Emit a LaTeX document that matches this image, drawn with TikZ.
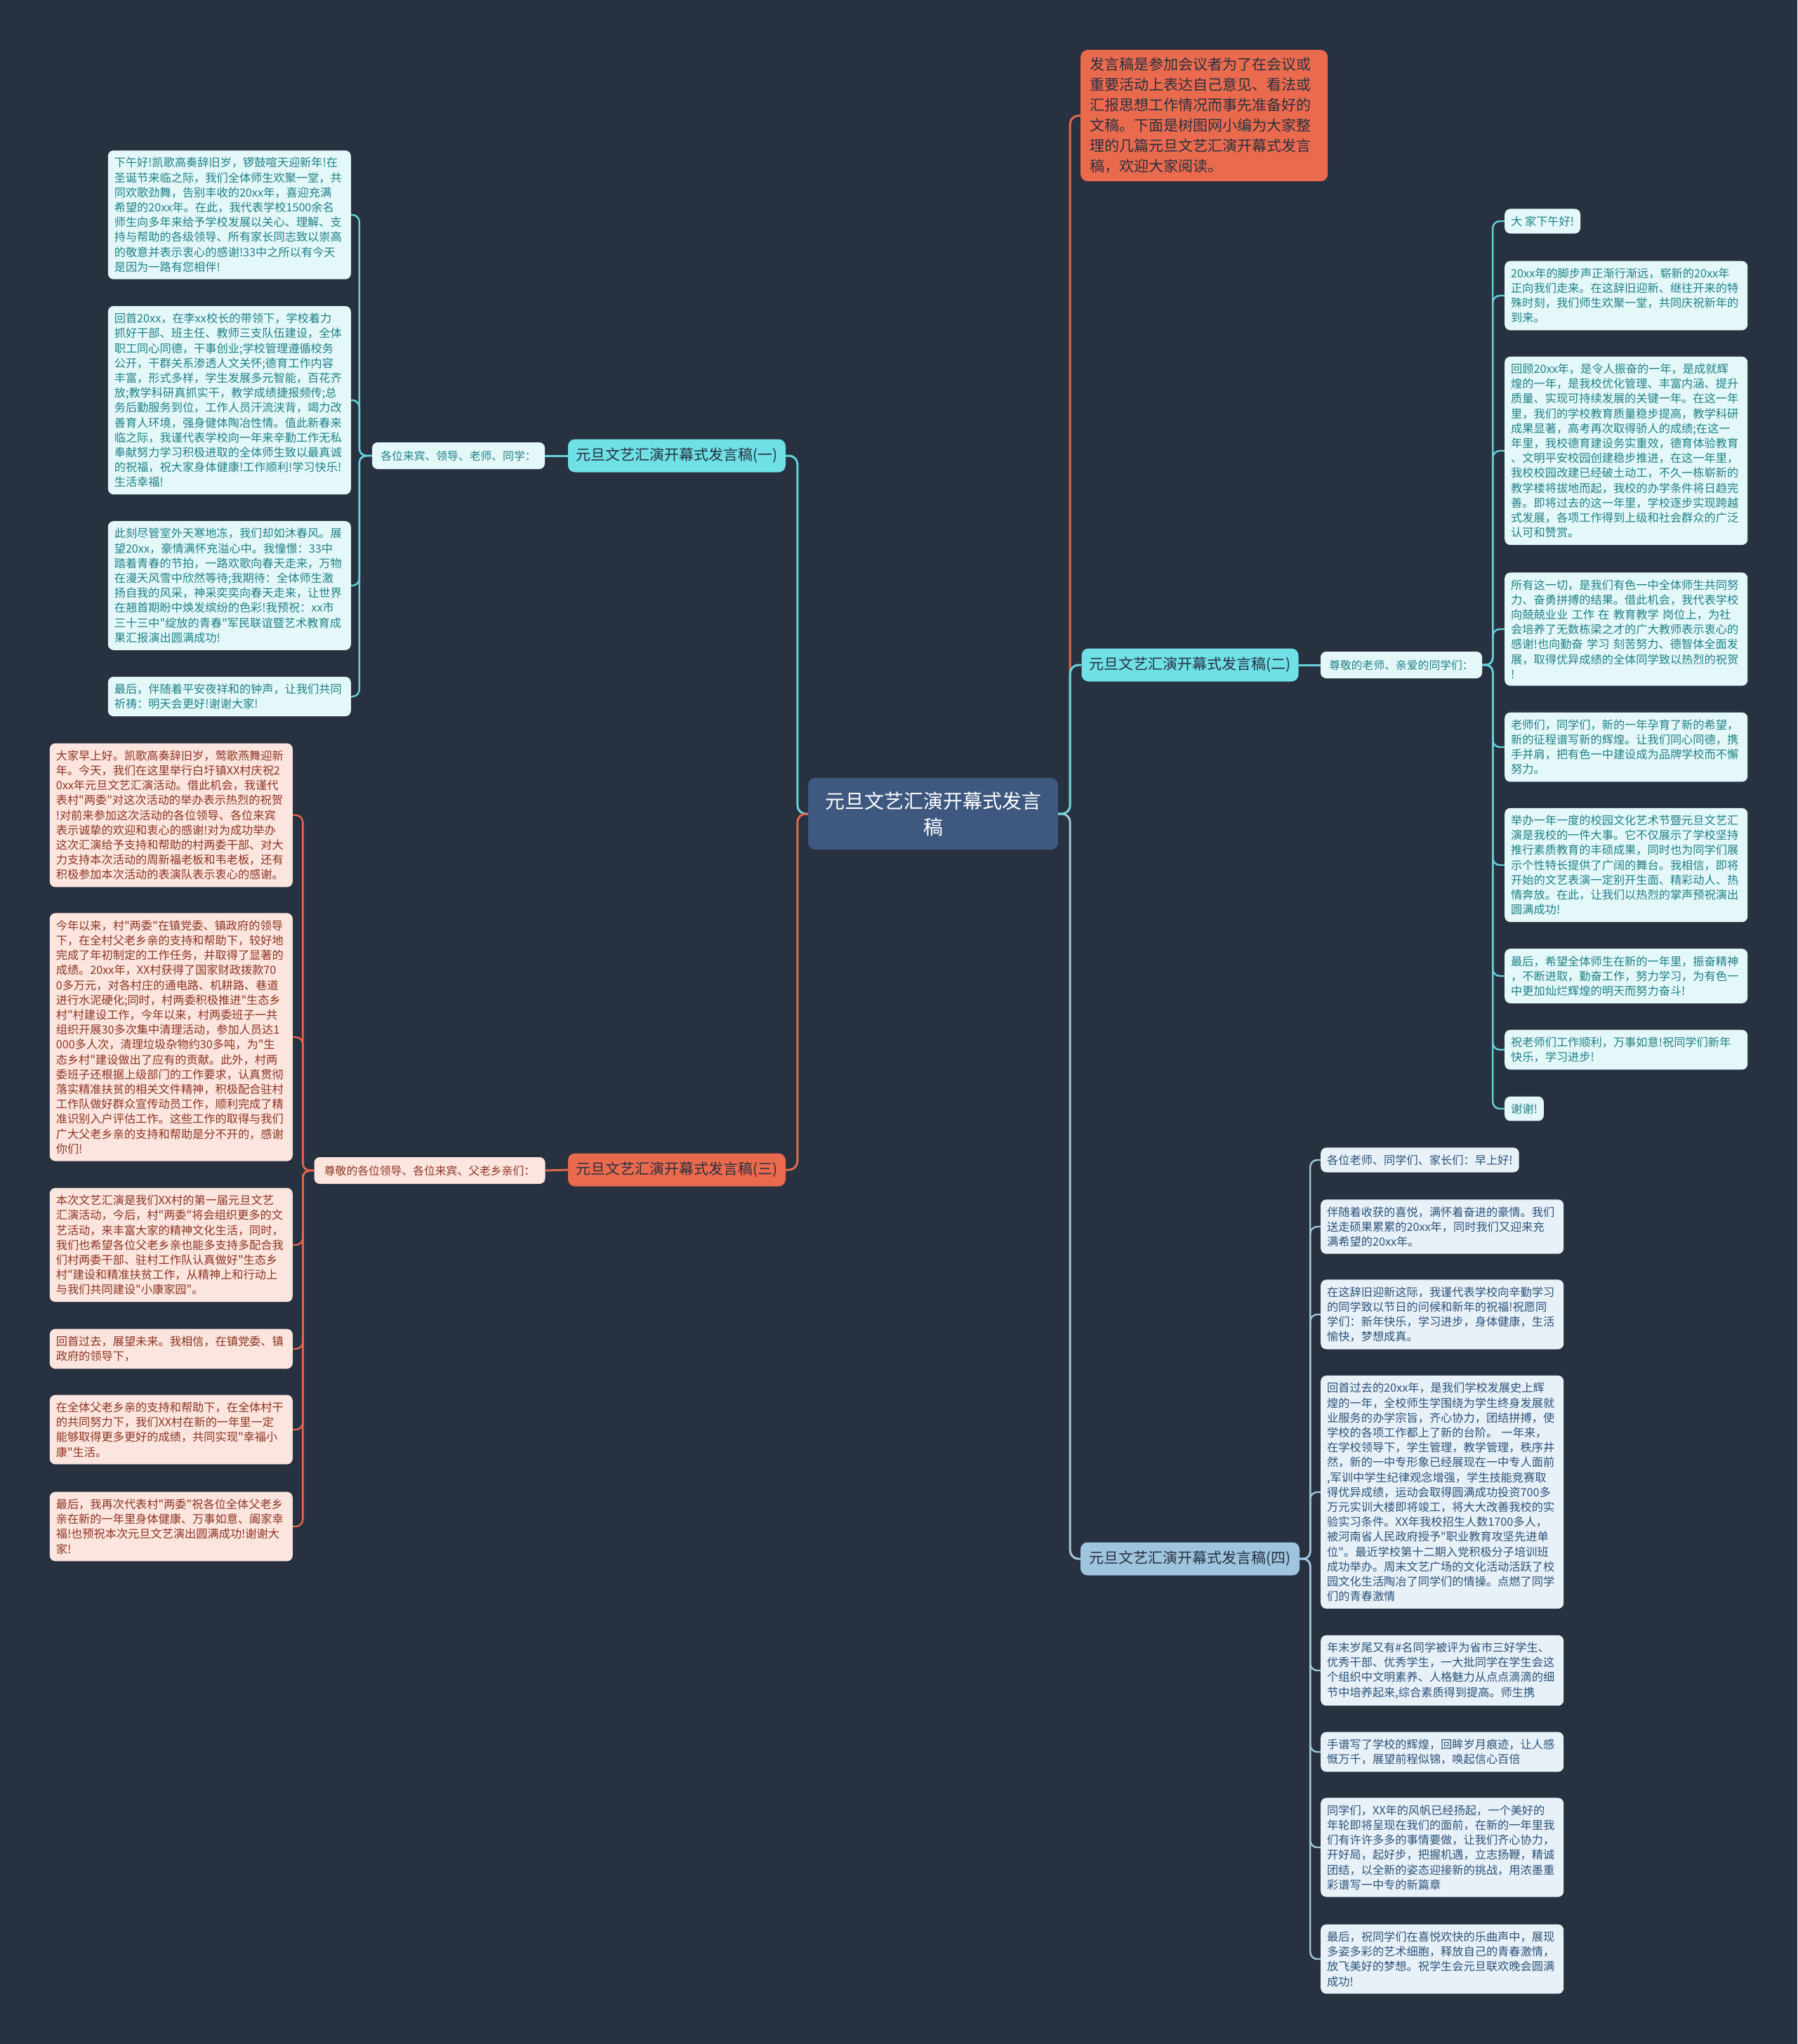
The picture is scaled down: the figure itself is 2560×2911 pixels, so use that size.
\documentclass[tikz,border=0pt]{standalone}
\usepackage{fontspec}
\setmainfont{Noto Sans CJK SC}[Ligatures=TeXOff]
\usepackage{tikz}

\definecolor{bgnavy}{RGB}{40,49,64}
\definecolor{rootblue}{RGB}{62,88,128}
\definecolor{brcyan}{RGB}{110,224,230}
\definecolor{brcoral}{RGB}{234,106,78}
\definecolor{brsky}{RGB}{158,196,222}
\definecolor{linecyan}{RGB}{102,211,219}
\definecolor{linecoral}{RGB}{226,104,76}
\definecolor{linesky}{RGB}{163,198,221}
\definecolor{leafcyan}{RGB}{228,248,249}
\definecolor{leafpink}{RGB}{252,229,222}
\definecolor{leafsky}{RGB}{233,241,248}
\definecolor{txtteal}{RGB}{30,128,134}
\definecolor{txtbrown}{RGB}{140,52,34}
\definecolor{txtblue}{RGB}{42,82,122}

\tikzset{
  leafbox/.style={rounded corners=8pt, inner xsep=9pt, inner ysep=10pt, align=left,
    font=\fontsize{16.2}{21.2}\selectfont},
  longtext/.style={text width=328pt},
  cyanleaf/.style={leafbox, fill=leafcyan, text=txtteal},
  pinkleaf/.style={leafbox, fill=leafpink, text=txtbrown},
  skyleaf/.style={leafbox, fill=leafsky, text=txtblue},
  branchbox/.style={rounded corners=10pt, minimum height=47pt, inner xsep=8pt,
    font=\fontsize{21}{26}\selectfont, text=bgnavy},
  sublabel/.style={rounded corners=8pt, minimum height=38pt, inner xsep=6pt,
    font=\fontsize{15.8}{20}\selectfont},
  cyanline/.style={draw=linecyan, line width=3pt, rounded corners=12pt},
  coralline/.style={draw=linecoral, line width=3pt, rounded corners=12pt},
  skyline/.style={draw=linesky, line width=3pt, rounded corners=12pt},
  leafline/.style={line width=2.4pt, rounded corners=10pt}
}

\begin{document}
\begin{tikzpicture}[x=1pt, y=-1pt]
\useasboundingbox (0,0) rectangle (2560,2911);
\fill[bgnavy] (0,0) rectangle (2560,2911);

% centre and main branches
\node[fill=rootblue, text=white, rounded corners=10pt, minimum width=356pt, minimum height=102pt,
  align=center, font=\fontsize{28}{37}\selectfont] (root) at (1329,1159) {元旦文艺汇演开幕式发言\\稿};

\node[fill=brcoral, text=bgnavy, rounded corners=10pt, anchor=north west, text width=326pt,
  inner xsep=13pt, inner ysep=11pt, align=left, font=\fontsize{21}{29}\selectfont] (intro) at (1539,71)
  {发言稿是参加会议者为了在会议或\\
   重要活动上表达自己意见、看法或\\
   汇报思想工作情况而事先准备好的\\
   文稿。下面是树图网小编为大家整\\
   理的几篇元旦文艺汇演开幕式发言\\
   稿，欢迎大家阅读。};

\node[branchbox, fill=brcyan, minimum width=310pt] (br1) at (964,649) {元旦文艺汇演开幕式发言稿(一)};
\node[branchbox, fill=brcyan, minimum width=309pt] (br2) at (1695,947) {元旦文艺汇演开幕式发言稿(二)};
\node[branchbox, fill=brcoral, minimum width=310pt] (br3) at (964,1666) {元旦文艺汇演开幕式发言稿(三)};
\node[branchbox, fill=brsky, minimum width=312pt] (br4) at (1695,2220) {元旦文艺汇演开幕式发言稿(四)};

\node[sublabel, fill=leafcyan, text=txtteal, minimum width=246pt] (sub1) at (653,649) {各位来宾、领导、老师、同学：};
\node[sublabel, fill=leafcyan, text=txtteal, minimum width=230pt] (sub2) at (1996,947) {尊敬的老师、亲爱的同学们：};
\node[sublabel, fill=leafpink, text=txtbrown, minimum width=329pt] (sub3) at (612,1667) {尊敬的各位领导、各位来宾、父老乡亲们：};

% leaves of (一)
\node[cyanleaf, longtext, anchor=east] (l1) at (500,306)
  {下午好!凯歌高奏辞旧岁，锣鼓喧天迎新年!在\\
   圣诞节来临之际，我们全体师生欢聚一堂，共\\
   同欢歌劲舞，告别丰收的20xx年，喜迎充满\\
   希望的20xx年。在此，我代表学校1500余名\\
   师生向多年来给予学校发展以关心、理解、支\\
   持与帮助的各级领导、所有家长同志致以崇高\\
   的敬意并表示衷心的感谢!33中之所以有今天\\
   是因为一路有您相伴!};
\node[cyanleaf, longtext, anchor=east] (l2) at (500,570)
  {回首20xx，在李xx校长的带领下，学校着力\\
   抓好干部、班主任、教师三支队伍建设，全体\\
   职工同心同德，干事创业;学校管理遵循校务\\
   公开，干群关系渗透人文关怀;德育工作内容\\
   丰富，形式多样，学生发展多元智能，百花齐\\
   放;教学科研真抓实干，教学成绩捷报频传;总\\
   务后勤服务到位，工作人员汗流浃背，竭力改\\
   善育人环境，强身健体陶冶性情。值此新春来\\
   临之际，我谨代表学校向一年来辛勤工作无私\\
   奉献努力学习积极进取的全体师生致以最真诚\\
   的祝福，祝大家身体健康!工作顺利!学习快乐!\\
   生活幸福!};
\node[cyanleaf, longtext, anchor=east] (l3) at (500,834)
  {此刻尽管室外天寒地冻，我们却如沐春风。展\\
   望20xx，豪情满怀充溢心中。我憧憬：33中\\
   踏着青春的节拍，一路欢歌向春天走来，万物\\
   在漫天风雪中欣然等待;我期待：全体师生激\\
   扬自我的风采，神采奕奕向春天走来，让世界\\
   在翘首期盼中焕发缤纷的色彩!我预祝：xx市\\
   三十三中"绽放的青春"军民联谊暨艺术教育成\\
   果汇报演出圆满成功!};
\node[cyanleaf, longtext, anchor=east] (l4) at (500,992)
  {最后，伴随着平安夜祥和的钟声，让我们共同\\
   祈祷：明天会更好!谢谢大家!};

% leaves of (二)
\node[cyanleaf, anchor=west] (r1) at (2143,315) {大 家下午好!};
\node[cyanleaf, longtext, anchor=west] (r2) at (2143,421)
  {20xx年的脚步声正渐行渐远，崭新的20xx年\\
   正向我们走来。在这辞旧迎新、继往开来的特\\
   殊时刻，我们师生欢聚一堂，共同庆祝新年的\\
   到来。};
\node[cyanleaf, longtext, anchor=west] (r3) at (2143,642)
  {回顾20xx年，是令人振奋的一年，是成就辉\\
   煌的一年，是我校优化管理、丰富内涵、提升\\
   质量、实现可持续发展的关键一年。在这一年\\
   里，我们的学校教育质量稳步提高，教学科研\\
   成果显著，高考再次取得骄人的成绩;在这一\\
   年里，我校德育建设务实重效，德育体验教育\\
   、文明平安校园创建稳步推进，在这一年里，\\
   我校校园改建已经破土动工，不久一栋崭新的\\
   教学楼将拔地而起，我校的办学条件将日趋完\\
   善。即将过去的这一年里，学校逐步实现跨越\\
   式发展，各项工作得到上级和社会群众的广泛\\
   认可和赞赏。};
\node[cyanleaf, longtext, anchor=west] (r4) at (2143,896)
  {所有这一切，是我们有色一中全体师生共同努\\
   力、奋勇拼搏的结果。借此机会，我代表学校\\
   向兢兢业业 工作 在 教育教学 岗位上，为社\\
   会培养了无数栋梁之才的广大教师表示衷心的\\
   感谢!也向勤奋 学习 刻苦努力、德智体全面发\\
   展，取得优异成绩的全体同学致以热烈的祝贺\\
   !};
\node[cyanleaf, longtext, anchor=west] (r5) at (2143,1064)
  {老师们，同学们，新的一年孕育了新的希望，\\
   新的征程谱写新的辉煌。让我们同心同德，携\\
   手并肩，把有色一中建设成为品牌学校而不懈\\
   努力。};
\node[cyanleaf, longtext, anchor=west] (r6) at (2143,1232)
  {举办一年一度的校园文化艺术节暨元旦文艺汇\\
   演是我校的一件大事。它不仅展示了学校坚持\\
   推行素质教育的丰硕成果，同时也为同学们展\\
   示个性特长提供了广阔的舞台。我相信，即将\\
   开始的文艺表演一定别开生面、精彩动人、热\\
   情奔放。在此，让我们以热烈的掌声预祝演出\\
   圆满成功!};
\node[cyanleaf, longtext, anchor=west] (r7) at (2143,1390)
  {最后，希望全体师生在新的一年里，振奋精神\\
   ，不断进取，勤奋工作，努力学习，为有色一\\
   中更加灿烂辉煌的明天而努力奋斗!};
\node[cyanleaf, longtext, anchor=west] (r8) at (2143,1495)
  {祝老师们工作顺利，万事如意!祝同学们新年\\
   快乐，学习进步!};
\node[cyanleaf, anchor=west] (r9) at (2143,1579) {谢谢!};

% leaves of (三)
\node[pinkleaf, longtext, anchor=east] (m1) at (417,1161)
  {大家早上好。凯歌高奏辞旧岁，莺歌燕舞迎新\\
   年。今天，我们在这里举行白圩镇XX村庆祝2\\
   0xx年元旦文艺汇演活动。借此机会，我谨代\\
   表村"两委"对这次活动的举办表示热烈的祝贺\\
   !对前来参加这次活动的各位领导、各位来宾\\
   表示诚挚的欢迎和衷心的感谢!对为成功举办\\
   这次汇演给予支持和帮助的村两委干部、对大\\
   力支持本次活动的周新福老板和韦老板，还有\\
   积极参加本次活动的表演队表示衷心的感谢。};
\node[pinkleaf, longtext, anchor=east] (m2) at (417,1477)
  {今年以来，村"两委"在镇党委、镇政府的领导\\
   下，在全村父老乡亲的支持和帮助下，较好地\\
   完成了年初制定的工作任务，并取得了显著的\\
   成绩。20xx年，XX村获得了国家财政拨款70\\
   0多万元，对各村庄的通电路、机耕路、巷道\\
   进行水泥硬化;同时，村两委积极推进"生态乡\\
   村"村建设工作，今年以来，村两委班子一共\\
   组织开展30多次集中清理活动，参加人员达1\\
   000多人次，清理垃圾杂物约30多吨，为"生\\
   态乡村"建设做出了应有的贡献。此外，村两\\
   委班子还根据上级部门的工作要求，认真贯彻\\
   落实精准扶贫的相关文件精神，积极配合驻村\\
   工作队做好群众宣传动员工作，顺利完成了精\\
   准识别入户评估工作。这些工作的取得与我们\\
   广大父老乡亲的支持和帮助是分不开的，感谢\\
   你们!};
\node[pinkleaf, longtext, anchor=east] (m3) at (417,1773)
  {本次文艺汇演是我们XX村的第一届元旦文艺\\
   汇演活动，今后，村"两委"将会组织更多的文\\
   艺活动，来丰富大家的精神文化生活，同时，\\
   我们也希望各位父老乡亲也能多支持多配合我\\
   们村两委干部、驻村工作队认真做好"生态乡\\
   村"建设和精准扶贫工作，从精神上和行动上\\
   与我们共同建设"小康家园"。};
\node[pinkleaf, longtext, anchor=east] (m4) at (417,1921)
  {回首过去，展望未来。我相信，在镇党委、镇\\
   政府的领导下，};
\node[pinkleaf, longtext, anchor=east] (m5) at (417,2036)
  {在全体父老乡亲的支持和帮助下，在全体村干\\
   的共同努力下，我们XX村在新的一年里一定\\
   能够取得更多更好的成绩，共同实现"幸福小\\
   康"生活。};
\node[pinkleaf, longtext, anchor=east] (m6) at (417,2174)
  {最后，我再次代表村"两委"祝各位全体父老乡\\
   亲在新的一年里身体健康、万事如意、阖家幸\\
   福!也预祝本次元旦文艺演出圆满成功!谢谢大\\
   家!};

% leaves of (四)
\node[skyleaf, anchor=west] (q1) at (1881,1652) {各位老师、同学们、家长们：早上好!};
\node[skyleaf, longtext, anchor=west] (q2) at (1881,1747)
  {伴随着收获的喜悦，满怀着奋进的豪情。我们\\
   送走硕果累累的20xx年，同时我们又迎来充\\
   满希望的20xx年。};
\node[skyleaf, longtext, anchor=west] (q3) at (1881,1872)
  {在这辞旧迎新这际，我谨代表学校向辛勤学习\\
   的同学致以节日的问候和新年的祝福!祝愿同\\
   学们：新年快乐，学习进步，身体健康，生活\\
   愉快，梦想成真。};
\node[skyleaf, longtext, anchor=west] (q4) at (1881,2125)
  {回首过去的20xx年，是我们学校发展史上辉\\
   煌的一年，全校师生学围绕为学生终身发展就\\
   业服务的办学宗旨，齐心协力，团结拼搏，使\\
   学校的各项工作都上了新的台阶。 一年来，\\
   在学校领导下，学生管理，教学管理，秩序井\\
   然，新的一中专形象已经展现在一中专人面前\\
   ,军训中学生纪律观念增强，学生技能竞赛取\\
   得优异成绩，运动会取得圆满成功投资700多\\
   万元实训大楼即将竣工，将大大改善我校的实\\
   验实习条件。XX年我校招生人数1700多人，\\
   被河南省人民政府授予"职业教育攻坚先进单\\
   位"。最近学校第十二期入党积极分子培训班\\
   成功举办。周末文艺广场的文化活动活跃了校\\
   园文化生活陶冶了同学们的情操。点燃了同学\\
   们的青春激情};
\node[skyleaf, longtext, anchor=west] (q5) at (1881,2379)
  {年末岁尾又有\#名同学被评为省市三好学生、\\
   优秀干部、优秀学生，一大批同学在学生会这\\
   个组织中文明素养、人格魅力从点点滴滴的细\\
   节中培养起来,综合素质得到提高。师生携};
\node[skyleaf, longtext, anchor=west] (q6) at (1881,2495)
  {手谱写了学校的辉煌，回眸岁月痕迹，让人感\\
   慨万千，展望前程似锦，唤起信心百倍};
\node[skyleaf, longtext, anchor=west] (q7) at (1881,2631)
  {同学们，XX年的风帆已经扬起，一个美好的\\
   年轮即将呈现在我们的面前，在新的一年里我\\
   们有许许多多的事情要做，让我们齐心协力，\\
   开好局，起好步，把握机遇，立志扬鞭，精诚\\
   团结，以全新的姿态迎接新的挑战，用浓墨重\\
   彩谱写一中专的新篇章};
\node[skyleaf, longtext, anchor=west] (q8) at (1881,2790)
  {最后，祝同学们在喜悦欢快的乐曲声中，展现\\
   多姿多彩的艺术细胞，释放自己的青春激情，\\
   放飞美好的梦想。祝学生会元旦联欢晚会圆满\\
   成功!};

% connectors
\draw[coralline] (root.east) -- ++(17,0) |- (intro.west);
\draw[cyanline] (root.west) -- ++(-15,0) |- (br1.east);
\draw[coralline] (root.west) -- ++(-15,0) |- (br3.east);
\draw[skyline] (root.east) -- ++(17,0) |- (br4.west);
\draw[cyanline] (root.east) -- ++(17,0) |- (br2.west);

\draw[cyanline] (br1.west) -- (sub1.east);
\draw[cyanline] (br2.east) -- (sub2.west);
\draw[coralline] (br3.west) -- (sub3.east);

\foreach \leaf in {l1,l2,l3,l4}
  \draw[cyanline, leafline] (sub1.west) -- ++(-18,0) |- (\leaf.east);
\foreach \leaf in {r1,r2,r3,r4,r5,r6,r7,r8,r9}
  \draw[cyanline, leafline] (sub2.east) -- ++(15,0) |- (\leaf.west);
\foreach \leaf in {m1,m2,m3,m4,m5,m6}
  \draw[coralline, leafline] (sub3.west) -- ++(-16,0) |- (\leaf.east);
\foreach \leaf in {q1,q2,q3,q4,q5,q6,q7,q8}
  \draw[skyline, leafline] (br4.east) -- ++(15,0) |- (\leaf.west);

\end{tikzpicture}
\end{document}
